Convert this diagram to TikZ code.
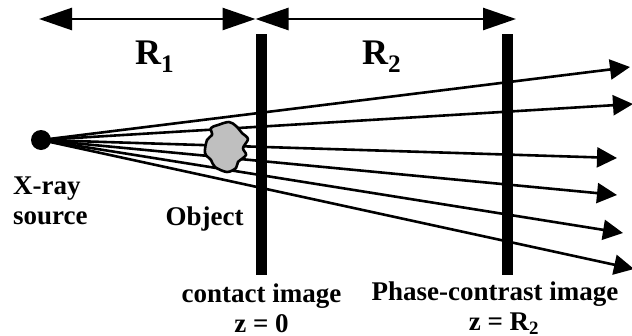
\documentclass[tikz,border=0pt]{standalone}
\usepackage{fontspec}
\setmainfont{Liberation Serif}
\usetikzlibrary{arrows.meta}
\tikzset{
  ray/.style={line width=2.6pt,-{Triangle[length=20pt,width=20pt]},black},
  dimline/.style={line width=2.6pt,{Triangle[length=33pt,width=22pt]}-{Triangle[length=33pt,width=22pt]},black},
  barline/.style={fill=black,draw=none,minimum width=11pt,minimum height=241pt,inner sep=0pt},
  lab/.style={font=\fontsize{27pt}{30pt}\selectfont\bfseries,align=center,inner sep=0pt,text=black},
  biglab/.style={font=\fontsize{36pt}{40pt}\selectfont\bfseries,inner sep=0pt,text=black,anchor=base west}
}
\begin{document}
\begin{tikzpicture}[x=1pt,y=-1pt]
\useasboundingbox (0,0) rectangle (632,335);
\node[circle,fill=black,minimum size=20pt,inner sep=0pt] (src) at (41,140) {};
\coordinate (t1) at (630,67);
\coordinate (t2) at (633,104);
\coordinate (t3) at (617,158);
\coordinate (t4) at (617,195);
\coordinate (t5) at (623,233);
\coordinate (t6) at (634,269);
\foreach \t in {t1,t2,t3,t4,t5,t6} \draw[ray] (src.center) -- (\t);
\node[barline] (b1) at (261.5,154.5) {};
\node[barline] (b2) at (507.5,154.5) {};
\draw[black,line width=2.6pt,fill=black!25,line join=round]
 plot[smooth cycle,tension=0.55] coordinates {(211,128) (218,125) (229,122) (236,126) (242,133) (248,139) (243,148) (246,155) (238,162) (236,168) (227,172) (215,167) (211,160) (205,153) (207,140) (212,135)};
\coordinate (d0) at (39,19);
\coordinate (d1) at (255.5,19);
\coordinate (d2) at (516,19);
\draw[dimline] (d0) -- (d1);
\draw[dimline] (d1) -- (d2);
\node[biglab] (r1) at (135,64) {R\textsubscript{1}};
\node[biglab] (r2) at (362,64) {R\textsubscript{2}};
\node[lab,align=left,anchor=west] (xr) at (13,200.5) {X-ray\\source};
\node[lab,anchor=base] (ob) at (204.5,225) {Object};
\node[lab] (ci) at (261.5,308) {contact image\\z = 0};
\node[lab] (pc) at (495,308) {Phase-contrast image\\\hspace*{18pt}z = R\textsubscript{2}};
\end{tikzpicture}
\end{document}
